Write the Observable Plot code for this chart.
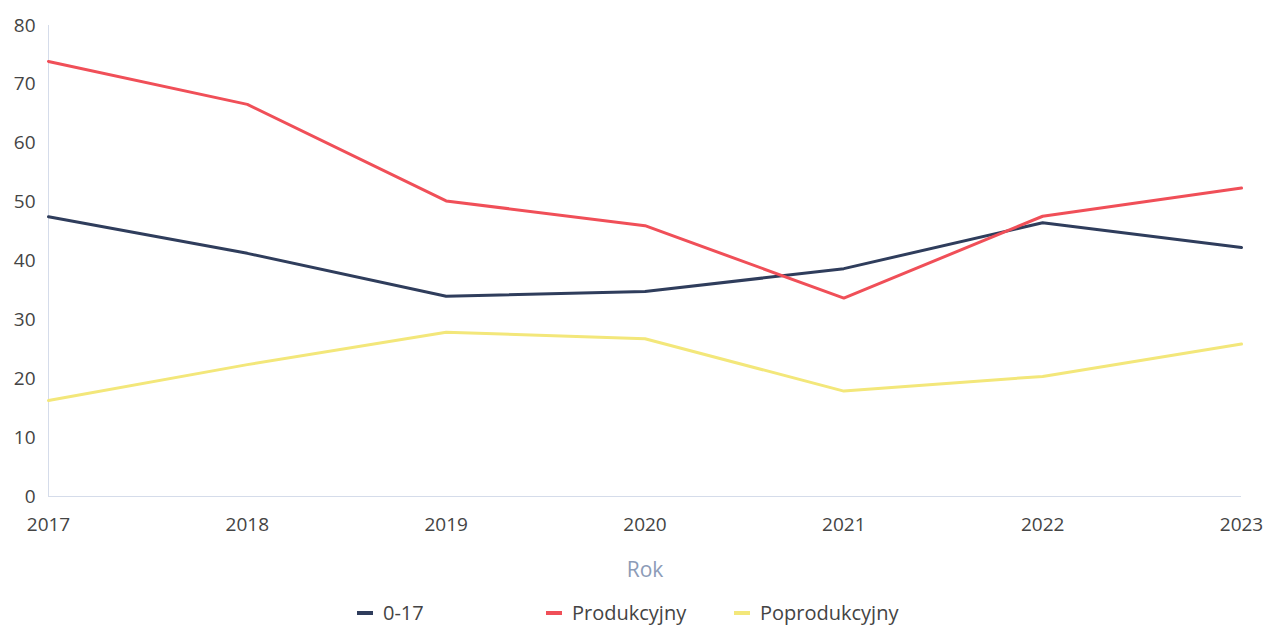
<!DOCTYPE html>
<html>
<head>
<meta charset="utf-8">
<script src="https://cdn.jsdelivr.net/npm/d3@7"></script>
<script src="https://cdn.jsdelivr.net/npm/@observablehq/plot@0.6"></script>
<style>
  body { margin: 0; background: #fff; font-family: "Open Sans", sans-serif; }
  #wrap { position: relative; width: 1264px; height: 627px; }
  .leg { position: absolute; top: 599px; font-size: 20px; color: #444; display: flex; align-items: center; }
  .sw { display: inline-block; width: 16px; height: 4px; margin-right: 10px; }
</style>
</head>
<body>
<div id="wrap"></div>
<script>
const years = [2017, 2018, 2019, 2020, 2021, 2022, 2023];
const seriesNames = ["0-17", "Produkcyjny", "Poprodukcyjny"];
const seriesColors = ["#2f3d5c", "#f04f58", "#f3e77a"];
const values0_17 = [47.5, 41.3, 34.0, 34.8, 38.7, 46.5, 42.3];
const valuesProd = [73.9, 66.6, 50.2, 46.0, 33.7, 47.6, 52.4];
const valuesPoprod = [16.3, 22.4, 27.9, 26.8, 17.9, 20.4, 25.9];
const yTicks = [0, 10, 20, 30, 40, 50, 60, 70, 80];

const allVals = [values0_17, valuesProd, valuesPoprod];
const data = [];
seriesNames.forEach((s, i) => years.forEach((y, j) => data.push({ year: y, value: allVals[i][j], series: s })));

const plot = Plot.plot({
  width: 1264,
  height: 590,
  marginTop: 25,
  marginBottom: 94,
  marginLeft: 48,
  marginRight: 23,
  style: { fontFamily: "Open Sans, sans-serif", fontSize: "19px", color: "#444" },
  x: { domain: [2017, 2023], ticks: years, tickFormat: d => String(d), tickSize: 0, tickPadding: 21,
       label: "Rok", labelAnchor: "center", labelArrow: "none", labelOffset: 80 },
  y: { domain: [0, 80], ticks: yTicks, tickSize: 0, tickPadding: 13, label: null },
  color: { domain: seriesNames, range: seriesColors },
  marks: [
    Plot.ruleX([2017], { stroke: "#d5dcea", strokeWidth: 1 }),
    Plot.ruleY([0], { stroke: "#d5dcea", strokeWidth: 1 }),
    Plot.lineY(data, { x: "year", y: "value", stroke: "series", strokeWidth: 3, z: "series" })
  ]
});
plot.querySelectorAll("g[aria-label='x-axis label'] text").forEach(t => {
  t.setAttribute("fill", "#8c9bb7");
  t.style.fontSize = "21px";
});
document.getElementById("wrap").appendChild(plot);

const legendPos = [357, 546, 734];
seriesNames.forEach((s, i) => {
  const d = document.createElement("div");
  d.className = "leg";
  d.style.left = legendPos[i] + "px";
  d.innerHTML = `<span class="sw" style="background:${seriesColors[i]}"></span><span>${s}</span>`;
  document.getElementById("wrap").appendChild(d);
});
</script>
</body>
</html>
